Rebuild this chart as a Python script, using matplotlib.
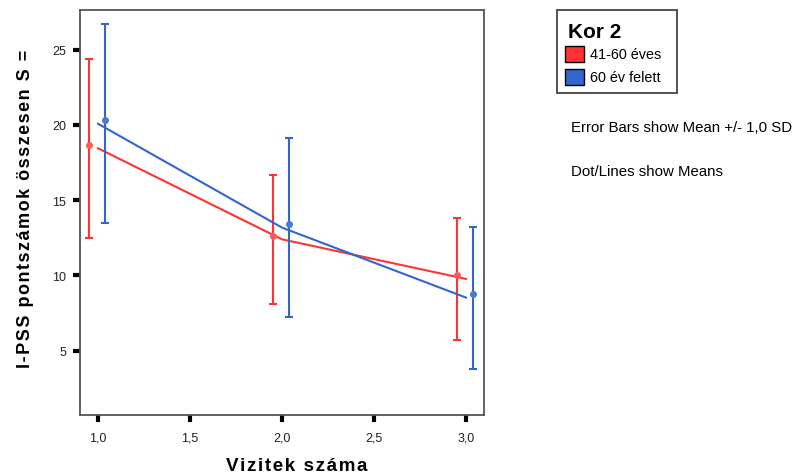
import matplotlib.pyplot as plt
import matplotlib.transforms as mtransforms
from matplotlib.patches import Rectangle

plt.rcParams['font.family'] = ['Liberation Sans', 'DejaVu Sans']

visits = [1.0, 2.0, 3.0]
groups = ['41-60 éves', '60 év felett']
means = {
    '41-60 éves': [18.45, 12.40, 9.77],
    '60 év felett': [20.08, 13.18, 8.53],
}
sds = {
    '41-60 éves': [5.95, 4.30, 4.07],
    '60 év felett': [6.60, 5.92, 4.72],
}
colors = {'41-60 éves': '#ff3333', '60 év felett': '#3366cc'}
dot_colors = {'41-60 éves': '#ff5a5a', '60 év felett': '#4a78d4'}
dodge = {'41-60 éves': -0.05, '60 év felett': 0.037}

xticks = [1.0, 1.5, 2.0, 2.5, 3.0]
yticks = [5, 10, 15, 20, 25]


def spaced(s):
    # the original labels are drawn with a bit of letter spacing
    return '\u200a'.join(s)


fig = plt.figure(figsize=(7.96, 4.77), dpi=100)
ax = fig.add_axes([0.1005, 0.128, 0.5075, 0.849])

# dots are drawn a few pixels above the mean in the original
dot_tr = mtransforms.offset_copy(ax.transData, fig=fig, y=3.5, units='dots')

for g in groups:
    c = colors[g]
    ax.plot(visits, means[g], color=c, lw=1.5, zorder=3)
    xs = [v + dodge[g] for v in visits]
    ax.errorbar(xs, means[g], yerr=sds[g], fmt='none', ecolor=c,
                elinewidth=1.5, capsize=3, capthick=1.5, zorder=3)
    ax.plot(xs, means[g], 'o', color=dot_colors[g], ms=4, mec=dot_colors[g],
            transform=dot_tr, zorder=4)

ax.set_xlim(0.902, 3.098)
ax.set_ylim(0.73, 27.64)
ax.set_xticks(xticks)
ax.set_xticklabels([f'{t:.1f}'.replace('.', ',') for t in xticks])
ax.set_yticks(yticks)
ax.set_yticklabels([str(t) for t in yticks])
ax.tick_params(axis='both', direction='out', length=5, width=3, color='black',
               labelsize=9, labelcolor='#222222')
ax.tick_params(axis='y', pad=5)
ax.tick_params(axis='x', pad=7)
for s in ax.spines.values():
    s.set_color('#555555')
    s.set_linewidth(1.3)

ax.set_xlabel(spaced('Vizitek száma'), fontsize=13.5, fontweight='bold')
ax.xaxis.set_label_coords(0.536, -0.104)
ax.set_ylabel(spaced('I-PSS pontszámok összesen S ='), fontsize=13,
              fontweight='bold')
ax.yaxis.set_label_coords(-0.113, 0.512)

# legend box
fig.patches.append(Rectangle((557 / 796, 1 - 94 / 477), 120 / 796, 83 / 477,
                             transform=fig.transFigure, fill=False,
                             edgecolor='#444444', lw=1.3))
fig.text(568 / 796, 1 - 33 / 477, 'Kor 2', fontsize=15, fontweight='bold',
         va='center', ha='left')
for i, g in enumerate(groups):
    yc = 55 + i * 23
    fig.patches.append(Rectangle((565 / 796, 1 - (yc + 8) / 477), 19 / 796, 16 / 477,
                                 transform=fig.transFigure, facecolor=colors[g],
                                 edgecolor='black', lw=1))
    fig.text(590 / 796, 1 - yc / 477, g, fontsize=10.4, va='center', ha='left')

fig.text(571 / 796, 1 - 128 / 477, 'Error Bars show Mean +/- 1,0 SD',
         fontsize=10.8, va='center', ha='left')
fig.text(571 / 796, 1 - 172 / 477, 'Dot/Lines show Means',
         fontsize=10.8, va='center', ha='left')

fig.savefig('out.png', dpi=100)
